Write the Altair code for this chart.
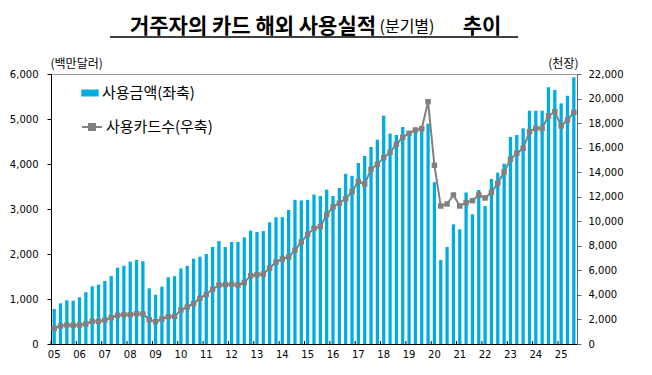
import altair as alt
import pandas as pd

# ---- data ----
years = list(range(2005, 2026))
quarters = [f"{y % 100:02d}Q{q}" for y in years for q in range(1, 5)][:83]

amount = [  # 사용금액, 백만달러 (left axis)
    778, 904, 971, 962,
    1038, 1149, 1282, 1318,
    1400, 1511, 1696, 1740,
    1829, 1867, 1838, 1238,
    1095, 1274, 1481, 1508,
    1681, 1737, 1896, 1941,
    2000, 2156, 2289, 2156,
    2267, 2267, 2370, 2519,
    2489, 2511, 2704, 2818,
    2818, 2978, 3204, 3190,
    3204, 3322, 3289, 3430,
    3289, 3467, 3782, 3737,
    4022, 4178, 4378, 4541,
    5074, 4674, 4644, 4822,
    4719, 4770, 4741, 4896,
    3593, 1867, 2156, 2659,
    2548, 3367, 2881, 3422,
    3067, 3667, 3807, 4007,
    4600, 4644, 4793, 5185,
    5185, 5185, 5704, 5644,
    5348, 5518, 5926,
]
cards = [  # 사용카드수, 천장 (right axis)
    1279, 1467, 1548, 1521,
    1548, 1630, 1847, 1847,
    1956, 2145, 2340, 2390,
    2390, 2470, 2445, 1990,
    1820, 2037, 2227, 2254,
    2770, 3015, 3290, 3720,
    4048, 4455, 4808, 4835,
    4862, 4808, 4998, 5568,
    5649, 5700, 6190, 6670,
    6926, 7100, 7659, 8320,
    8936, 9425, 9560, 10550,
    11175, 11475, 11840, 12420,
    13240, 13037, 14232, 14640,
    15183, 15618, 16272, 16842,
    17168, 17437, 17546, 19743,
    14561, 11245, 11407, 12141,
    11245, 11516, 11679, 12141,
    11900, 12359, 13094, 14015,
    15047, 15536, 15943, 17301,
    17573, 17573, 18577, 18930,
    17763, 18252, 18877,
]
series_amount = "사용금액(좌축)"
series_cards = "사용카드수(우축)"
title_main = "거주자의 카드 해외 사용실적"
title_sub = "(분기별)"
title_end = "추이"
left_unit = "(백만달러)"
right_unit = "(천장)"

df = pd.DataFrame({"q": quarters, "amount": amount, "cards": cards,
                   "s1": series_amount, "s2": series_cards})
year_starts = [q for q in quarters if q.endswith("Q1")]

W, H = 526, 270
KR = "Noto Sans CJK KR"
NUM = "DejaVu Sans"
BLUE = "#00ADE0"
GREY = "#808080"

xscale = alt.Scale(domain=quarters, paddingInner=0, paddingOuter=0)
xaxis = alt.Axis(values=year_starts, labelExpr="substring(datum.value, 0, 2)",
                 labelAngle=0, ticks=False, domainColor="#000", labelFont=NUM,
                 labelFontSize=10, labelPadding=5, labelColor="#000", title=None)

base = alt.Chart(df)

bars = base.mark_bar(width=alt.RelativeBandSize(0.52)).encode(
    x=alt.X("q:N", scale=xscale, axis=xaxis),
    y=alt.Y("amount:Q", scale=alt.Scale(domain=[0, 6000], nice=False),
            axis=alt.Axis(values=list(range(0, 6001, 1000)), format=",.0f", grid=False,
                          tickSize=4, tickColor="#000", domainColor="#000",
                          labelFont=NUM, labelFontSize=10, labelColor="#000", labelPadding=9,
                          title=left_unit, titleAngle=0, titleAlign="left",
                          titleBaseline="bottom", titleX=-1, titleY=-4, titleFont=KR,
                          titleFontSize=12, titleFontWeight="normal", titleColor="#000")),
    color=alt.Color("s1:N", scale=alt.Scale(range=[BLUE]),
                    legend=alt.Legend(title=None, orient="none", legendX=30, legendY=10,
                                      symbolType="M-1,-0.4H1V0.4H-1Z", symbolSize=300,
                                      symbolStrokeWidth=0, labelFont=KR, labelFontSize=15,
                                      labelColor="#000", labelOffset=3)),
)

line = base.mark_line(strokeWidth=2, point=alt.OverlayMarkDef(shape="square", size=30, filled=True)).encode(
    x=alt.X("q:N", scale=xscale, axis=xaxis),
    y=alt.Y("cards:Q", scale=alt.Scale(domain=[0, 22000], nice=False),
            axis=alt.Axis(orient="right", values=list(range(0, 22001, 2000)), format=",.0f",
                          grid=False, tickSize=4, tickColor="#666", domainColor="#666",
                          labelFont=NUM, labelFontSize=10, labelColor="#000", labelPadding=7,
                          title=right_unit, titleAngle=0, titleAlign="right",
                          titleBaseline="bottom", titleX=1, titleY=-4, titleFont=KR,
                          titleFontSize=12, titleFontWeight="normal", titleColor="#000")),
    color=alt.Color("s2:N", scale=alt.Scale(range=[GREY]),
                    legend=alt.Legend(title=None, orient="none", legendX=30, legendY=42,
                                      symbolType="M-1,0H1M-0.3,-0.3H0.3V0.3H-0.3Z",
                                      symbolSize=400, symbolStrokeWidth=2,
                                      symbolFillColor=GREY, labelFont=KR, labelFontSize=15,
                                      labelColor="#000", labelOffset=3)),
)

yticks = base.transform_filter("indexof(datum.q, 'Q1') >= 0").mark_rule(color="#000").encode(
    x=alt.X("q:N", scale=xscale, axis=xaxis, bandPosition=0),
    y=alt.value(H), y2=alt.value(H - 3),
)

one = alt.Data(values=[{}])
t1 = alt.Chart(one).mark_text(text=title_main, font=KR, fontSize=21, fontWeight="bold",
                              align="center", baseline="alphabetic", color="#000").encode(
    x=alt.value(202), y=alt.value(-41))
t2 = alt.Chart(one).mark_text(text=title_sub, font=KR, fontSize=16,
                              align="center", baseline="alphabetic", color="#000").encode(
    x=alt.value(356), y=alt.value(-42))
t3 = alt.Chart(one).mark_text(text=title_end, font=KR, fontSize=21, fontWeight="bold",
                              align="center", baseline="alphabetic", color="#000").encode(
    x=alt.value(431), y=alt.value(-41))
uline = alt.Chart(one).mark_rule(color="#000", strokeWidth=1.3).encode(
    x=alt.value(59), x2=alt.value(467), y=alt.value(-37))

chart = alt.layer(bars, line, yticks, t1, t2, t3, uline).resolve_scale(
    y="independent", color="independent"
).properties(
    width=W, height=H,
    autosize=alt.AutoSizeParams(type="none"),
    padding={"left": 43, "top": 66, "right": 67, "bottom": 22},
    background="white",
).configure_view(stroke="#999", strokeWidth=1)

chart.save("out.html", embed_options={"renderer": "svg", "actions": False})
